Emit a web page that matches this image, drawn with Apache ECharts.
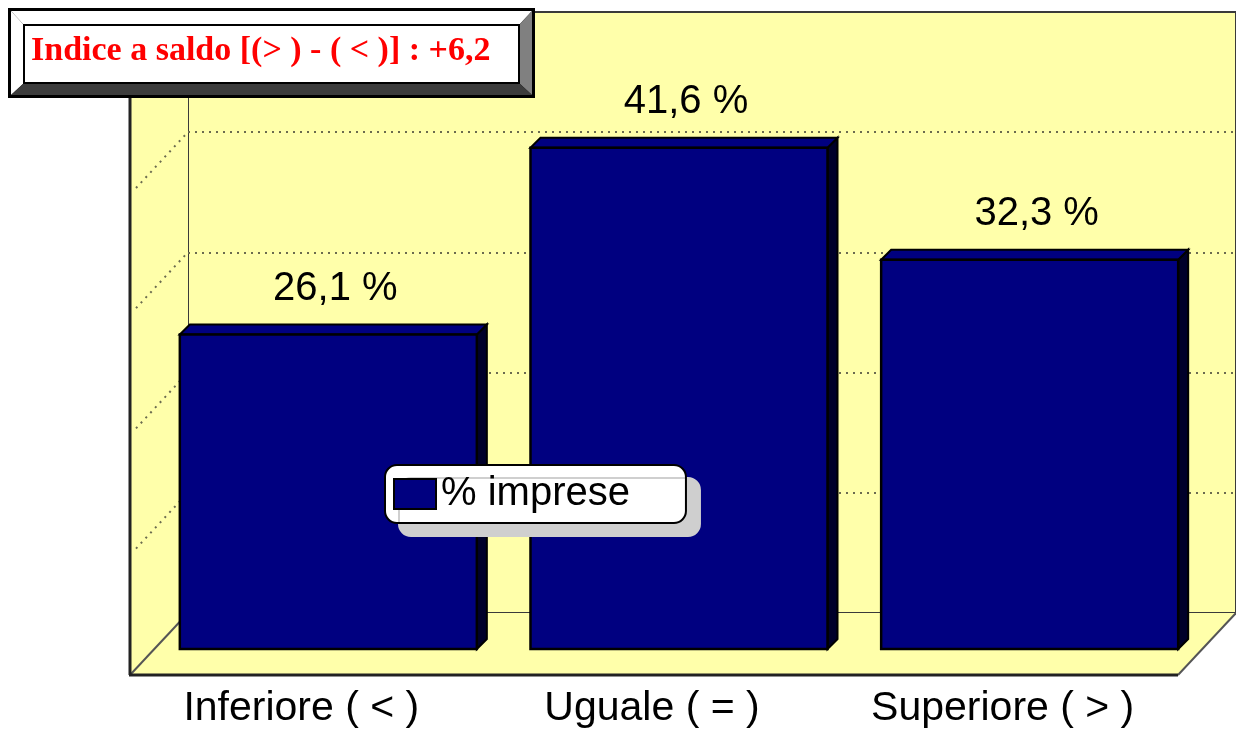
<!DOCTYPE html>
<html>
<head>
<meta charset="utf-8">
<title>Indice a saldo</title>
<script src="https://cdn.jsdelivr.net/npm/echarts@6/dist/echarts.min.js"></script>
<style>
    html, body { margin: 0; padding: 0; background: #fff; }
    #chart { width: 1236px; height: 731px; }
</style>
</head>
<body>
<div id="chart"></div>
<script>
    // dati
    const categories = ['Inferiore ( < )', 'Uguale ( = )', 'Superiore ( > )'];
    const values = [26.1, 41.6, 32.3];
    const seriesName = '% imprese';
    const titleText = 'Indice a saldo [(> ) - ( < )] : +6,2';
    const yMin = 0;
    const yMax = 50;
    const yStep = 10;

    const wallColor = '#ffffaa';
    const barColor = '#000080';
    const depthX = 58, depthY = 62;   // profondita' pavimento / parete laterale
    const barDepth = 10;

    function fmt(v) {
        return String(v).replace('.', ',') + ' %';
    }

    // parete laterale + pavimento, ricavati dalla griglia di fondo
    function renderWalls(params, api) {
        const cs = params.coordSys;
        const L = cs.x, T = cs.y, R = cs.x + cs.width, B = cs.y + cs.height;
        const children = [
            { type: 'polygon', shape: { points: [[L, T], [L, B], [L - depthX, B + depthY], [L - depthX, T + depthY]] },
              style: { fill: wallColor } },
            { type: 'polygon', shape: { points: [[L, B], [R, B], [R - depthX, B + depthY], [L - depthX, B + depthY]] },
              style: { fill: wallColor } }
        ];
        for (let v = yMin + yStep; v < yMax; v += yStep) {
            const y = api.coord([0, v])[1];
            children.push({ type: 'line', shape: { x1: L - 3, y1: y + 3, x2: L - depthX + 3, y2: y + depthY - 3 },
                style: { stroke: '#6b6b4f', lineWidth: 2, lineDash: [2, 5] } });
        }
        children.push(
            { type: 'line', shape: { x1: L, y1: B, x2: L - depthX, y2: B + depthY }, style: { stroke: '#555', lineWidth: 2 } },
            { type: 'line', shape: { x1: R, y1: B, x2: R - depthX, y2: B + depthY }, style: { stroke: '#555', lineWidth: 2 } },
            { type: 'line', shape: { x1: L - depthX, y1: T + depthY, x2: L - depthX, y2: B + depthY }, style: { stroke: '#222', lineWidth: 3 } },
            { type: 'line', shape: { x1: L - depthX - 1, y1: B + depthY, x2: R - depthX, y2: B + depthY }, style: { stroke: '#222', lineWidth: 3 } }
        );
        return { type: 'group', children: children };
    }

    function renderBar(params, api) {
        const idx = api.value(0);
        const v = api.value(1);
        const top = api.coord([idx, v]);
        const base = api.coord([idx, 0]);
        const w = api.size([1, 0])[0] * 0.847;
        const L = top[0] - w / 2, R = top[0] + w / 2, T = top[1], B = base[1];
        const d = barDepth;
        return {
            type: 'group',
            children: [
                { type: 'polygon', shape: { points: [[R, T], [R + d, T - d], [R + d, B - d], [R, B]] },
                  style: { fill: '#00002a', stroke: '#000', lineWidth: 2 } },
                { type: 'polygon', shape: { points: [[L, T], [L + d, T - d], [R + d, T - d], [R, T]] },
                  style: { fill: barColor, stroke: '#000', lineWidth: 2 } },
                { type: 'rect', shape: { x: L, y: T, width: w, height: B - T },
                  style: { fill: barColor, stroke: '#000', lineWidth: 2.5 } },
                { type: 'text', style: { text: fmt(v), x: top[0] + 7, y: T - 46, fill: '#000',
                    font: '40px "Liberation Sans", Arial, sans-serif', align: 'center', verticalAlign: 'middle' } }
            ]
        };
    }

    const myChart = echarts.init(document.getElementById('chart'));

    const option = {
        backgroundColor: '#fff',
        animation: false,
        title: {
            text: titleText,
            left: 31,
            top: 33,
            padding: 0,
            z: 12,
            textStyle: {
                fontFamily: '"Liberation Serif", "Times New Roman", serif',
                fontSize: 34,
                fontWeight: 'bold',
                color: '#ff0000',
                lineHeight: 36
            }
        },
        legend: {
            left: 385,
            top: 465,
            padding: [9, 56, 9, 8],
            itemWidth: 42,
            itemHeight: 30,
            itemGap: 5,
            backgroundColor: '#fff',
            borderColor: '#000',
            borderWidth: 2,
            borderRadius: 12,
            shadowColor: '#cfcfcf',
            shadowBlur: 0,
            shadowOffsetX: 14,
            shadowOffsetY: 13,
            selectedMode: false,
            textStyle: {
                fontFamily: '"Liberation Sans", Arial, sans-serif',
                fontSize: 40,
                color: '#000',
                lineHeight: 40,
                padding: [0, 0, 0, 0]
            },
            data: [{
                name: seriesName,
                icon: 'rect',
                itemStyle: { color: barColor, borderColor: '#000', borderWidth: 2 }
            }]
        },
        grid: [
            // parete di fondo
            { left: 188, right: -4, top: 12, bottom: 118, show: true, backgroundColor: wallColor,
              borderColor: '#3a3a3a', borderWidth: 2 },
            // piano frontale delle barre
            { left: 153, width: 1052, top: 46.5, bottom: 82 },
            // bordo anteriore del pavimento (etichette)
            { left: 126, width: 1052, top: 600, bottom: 56 }
        ],
        xAxis: [
            { type: 'category', gridIndex: 0, data: categories, axisLine: { show: false },
              axisTick: { show: false }, axisLabel: { show: false } },
            { type: 'category', gridIndex: 1, data: categories, axisLine: { show: false },
              axisTick: { show: false }, axisLabel: { show: false } },
            { type: 'category', gridIndex: 2, data: categories, axisLine: { show: false },
              axisTick: { show: false },
              axisLabel: { margin: 14, fontSize: 41, lineHeight: 40, color: '#000',
                  fontFamily: '"Liberation Sans", Arial, sans-serif' } }
        ],
        yAxis: [
            { type: 'value', gridIndex: 0, min: yMin, max: yMax, interval: yStep,
              axisLine: { show: false }, axisTick: { show: false }, axisLabel: { show: false },
              splitLine: { show: true, showMinLine: false, showMaxLine: false,
                  lineStyle: { color: '#6b6b4f', width: 2, type: [2, 5] } } },
            { type: 'value', gridIndex: 1, min: yMin, max: yMax, interval: yStep,
              axisLine: { show: false }, axisTick: { show: false }, axisLabel: { show: false },
              splitLine: { show: false } },
            { type: 'value', gridIndex: 2, show: false, splitLine: { show: false } }
        ],
        graphic: [
            // cornice in rilievo del titolo
            { type: 'rect', z: 10, shape: { x: 8, y: 8, width: 527, height: 90 }, style: { fill: '#000' } },
            { type: 'polygon', z: 11, shape: { points: [[11, 11], [532, 11], [519, 25], [24, 25]] }, style: { fill: '#fff' } },
            { type: 'polygon', z: 11, shape: { points: [[11, 11], [24, 25], [24, 83], [11, 95]] }, style: { fill: '#fff' } },
            { type: 'polygon', z: 11, shape: { points: [[532, 11], [532, 95], [519, 83], [519, 25]] }, style: { fill: '#808080' } },
            { type: 'polygon', z: 11, shape: { points: [[11, 95], [24, 83], [519, 83], [532, 95]] }, style: { fill: '#3c3c3c' } },
            { type: 'rect', z: 11, shape: { x: 24, y: 25, width: 495, height: 58 },
              style: { fill: '#fff', stroke: '#000', lineWidth: 2 } }
        ],
        series: [
            {
                name: 'pareti',
                type: 'custom',
                xAxisIndex: 0,
                yAxisIndex: 0,
                z: 1,
                silent: true,
                renderItem: renderWalls,
                data: [[0, 0]]
            },
            {
                name: seriesName,
                type: 'custom',
                xAxisIndex: 1,
                yAxisIndex: 1,
                z: 3,
                itemStyle: { color: barColor },
                encode: { x: 0, y: 1 },
                renderItem: renderBar,
                data: values.map(function (v, i) { return [i, v]; })
            }
        ]
    };

    myChart.setOption(option);
</script>
</body>
</html>
